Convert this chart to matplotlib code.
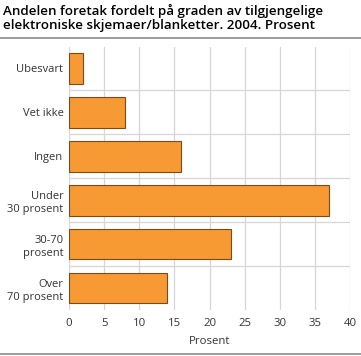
import numpy as np
import matplotlib
matplotlib.use("Agg")
import matplotlib.pyplot as plt
from matplotlib.lines import Line2D

plt.rcParams['font.family'] = ['Open Sans', 'DejaVu Sans']

# data
categories = ['Ubesvart', 'Vet ikke', 'Ingen', 'Under\n30 prosent', '30-70\nprosent', 'Over\n70 prosent']
values = [2, 8, 16, 37, 23, 14]
xticks = [0, 5, 10, 15, 20, 25, 30, 35, 40]

title_lines = ['Andelen foretak fordelt på graden av tilgjengelige',
               'elektroniske skjemaer/blanketter. 2004. Prosent']

fig = plt.figure(figsize=(3.61, 3.56), dpi=100)
ax = fig.add_axes([69 / 361, 1 - 310 / 356, 281 / 361, 263.5 / 356])

y = np.arange(len(categories))
ax.barh(y, values, height=0.7, color='#f79a33', edgecolor='#7a4a1a', linewidth=0.8, zorder=3)

ax.set_ylim(len(categories) - 0.5, -0.5)
ax.set_xlim(0, 40)
ax.set_xticks(xticks)
ax.set_xticklabels([str(t) for t in xticks], fontsize=8.2, color='#333333')
ax.set_yticks(y)
ax.set_yticklabels(categories, fontsize=8, color='#333333', linespacing=1.3)
ax.tick_params(length=0, pad=4)
ax.tick_params(axis='x', pad=6)

# grid: vertical at ticks, horizontal between categories
ax.xaxis.grid(True, color='#d6d6d6', linewidth=0.9, zorder=0)
ax.set_yticks(np.arange(len(categories) - 1) + 0.5, minor=True)
ax.yaxis.grid(True, which='minor', color='#d6d6d6', linewidth=0.9, zorder=0)
ax.yaxis.grid(False, which='major')
ax.tick_params(which='minor', length=0)
for s in ax.spines.values():
    s.set_visible(False)

ax.set_xlabel('Prosent', fontsize=8.2, color='#333333', labelpad=5)

# title, sized so the first line is about 320 px wide
t1 = fig.text(3 / 361, 1 - 4 / 356, title_lines[0], fontsize=10, fontweight='semibold',
              va='top', ha='left', color='#000000')
renderer = fig.canvas.get_renderer()
w = t1.get_window_extent(renderer).width
fs = 10 * 319 / w
t1.set_fontsize(fs)
t2 = fig.text(3 / 361, 1 - 19 / 356, title_lines[1], fontsize=fs, fontweight='semibold',
              va='top', ha='left', color='#000000')

fig.add_artist(Line2D([0, 1], [1 - 38 / 356, 1 - 38 / 356], color='#8c8c8c', linewidth=1.2))
fig.add_artist(Line2D([0, 1], [1 - 353.5 / 356, 1 - 353.5 / 356], color='#8c8c8c', linewidth=1.2))

fig.savefig('out.png', dpi=100)
